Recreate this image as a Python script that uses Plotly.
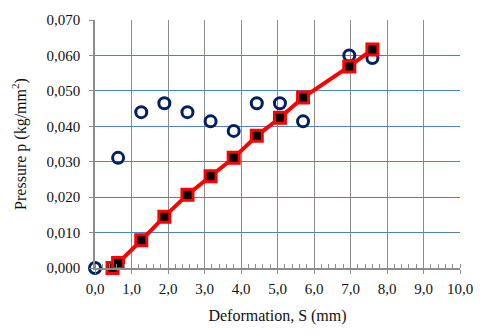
import plotly.graph_objects as go

x_blue = [0.0, 0.633, 1.267, 1.9, 2.533, 3.167, 3.8, 4.433, 5.067, 5.7, 6.967, 7.6]
p_blue = [0.0, 0.0311, 0.0440, 0.0465, 0.0440, 0.0414, 0.0387, 0.0465, 0.0465, 0.0414, 0.0600, 0.0593]

x_red = [0.48, 0.633, 1.267, 1.9, 2.533, 3.167, 3.8, 4.433, 5.067, 5.7, 6.967, 7.6]
p_red = [0.0, 0.0014, 0.0078, 0.0145, 0.0207, 0.0259, 0.0311, 0.0373, 0.0424, 0.0481, 0.0569, 0.0617]

y_ticks = [0.0, 0.01, 0.02, 0.03, 0.04, 0.05, 0.06, 0.07]
y_ticklabels = ["0,000", "0,010", "0,020", "0,030", "0,040", "0,050", "0,060", "0,070"]
x_ticks = [0, 1, 2, 3, 4, 5, 6, 7, 8, 9, 10]
x_ticklabels = ["0,0", "1,0", "2,0", "3,0", "4,0", "5,0", "6,0", "7,0", "8,0", "9,0", "10,0"]

x_title = "Deformation, S (mm)"
y_title = "Pressure p (kg/mm<sup>2</sup>)"

fig = go.Figure()
fig.add_trace(go.Scatter(
    x=x_blue, y=p_blue, mode="markers",
    marker=dict(symbol="circle-open", size=11, color="#002060", line=dict(width=3, color="#002060")),
    showlegend=False, cliponaxis=False))
fig.add_trace(go.Scatter(
    x=x_red, y=p_red, mode="lines+markers",
    line=dict(color="#FF0000", width=4),
    marker=dict(symbol="square", size=11, color="#000000", line=dict(width=3, color="#FF0000")),
    showlegend=False, cliponaxis=False))

font = dict(family="Liberation Serif, Times New Roman, serif", size=15, color="#111111")
fig.update_layout(
    width=485, height=336,
    margin=dict(l=95, r=20, t=14, b=68),
    paper_bgcolor="white", plot_bgcolor="white",
    font=font,
    xaxis=dict(range=[0, 10.0001], tickmode="array", tickvals=x_ticks, ticktext=x_ticklabels,
               showgrid=True, gridcolor="#8C8C8C", gridwidth=1,
               showline=True, linecolor="#8C8C8C", linewidth=1.5, zeroline=False,
               ticks="outside", ticklen=4, tickcolor="#8C8C8C", ticklabelstandoff=2,
               minor=dict(tickmode="linear", tick0=0, dtick=0.2, ticks="inside", ticklen=4,
                          tickcolor="#8C8C8C", showgrid=False),
               title=dict(text=x_title, font=dict(size=16), standoff=14), tickfont=dict(size=15)),
    yaxis=dict(range=[0, 0.07001], tickmode="array", tickvals=y_ticks, ticktext=y_ticklabels,
               showgrid=True, gridcolor="#4F81BD", gridwidth=1,
               showline=True, linecolor="#8C8C8C", linewidth=1.5, zeroline=False, ticks="outside", ticklen=4,
               tickcolor="#8C8C8C", ticklabelstandoff=6,
               title=dict(text=y_title, font=dict(size=16), standoff=16), tickfont=dict(size=15)),
)
fig.write_html("out.html", config={"displayModeBar": False},
               post_script="document.body.style.margin='0px';document.body.style.overflow='hidden';")
